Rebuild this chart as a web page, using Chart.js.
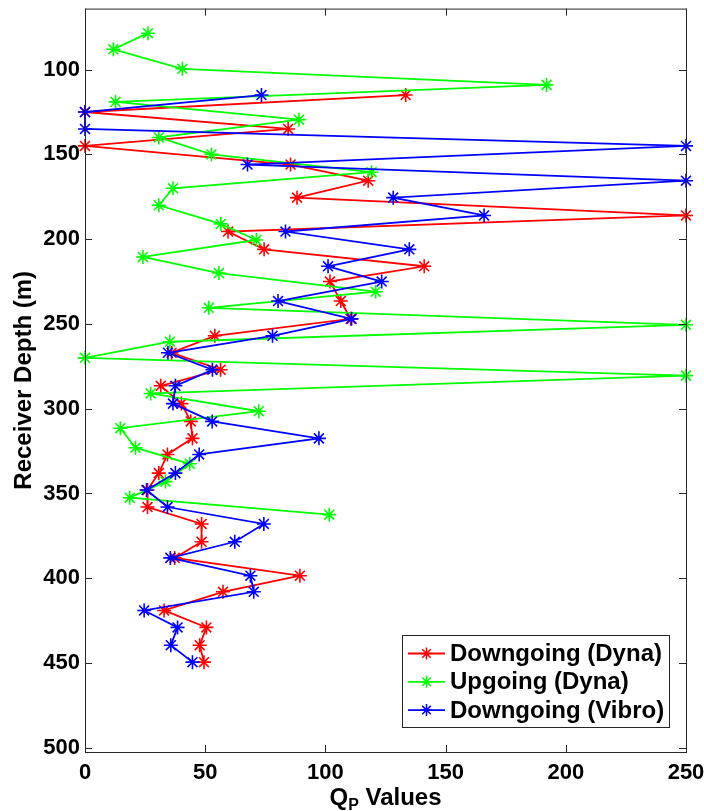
<!DOCTYPE html>
<html>
<head>
<meta charset="utf-8">
<script src="https://cdn.jsdelivr.net/npm/chart.js@4/dist/chart.umd.min.js"></script>
<style>
  html, body { margin: 0; padding: 0; background: #fff; }
  #plot { display: block; }
</style>
</head>
<body>
<canvas id="plot" width="704" height="811"></canvas>
<script>
// depths (m)
const downDepth = [115, 125, 135, 145, 156, 165.5, 175.5, 186, 195.5, 206, 216, 225, 236.5, 247, 257, 267, 277,
  286.5, 297, 307.5, 317.5, 327, 338, 348, 358, 368, 378.5, 388, 398.5, 408, 419, 429, 439.5, 449.5];
const upDepth = [78.5, 88, 99.5, 109, 119, 129.5, 140, 150, 160.5, 170, 180, 191, 200.5, 210.5, 220, 231, 240.5,
  250.5, 260.5, 270, 280.5, 291, 301.5, 311.5, 323, 332.5, 343, 352.5, 362.5];

// Qp values
const qpDownDyna = [133.4, 0, 84.5, 0, 85.5, 117.8, 88.2, 250, 59.5, 74.5, 141.1, 101.9, 106.4, 110.5, 54, 36, 56.4,
  31.5, 40.1, 44, 44.7, 34.3, 30.7, 26, 26, 48.5, 48.5, 37.3, 89.4, 57.4, 32.9, 50.5, 47.7, 49.5];
const qpUpDyna = [26.2, 11.8, 40.5, 192, 12.7, 89, 30.7, 52.6, 119.2, 36.6, 30.7, 56.5, 71.3, 24.1, 55.7, 120.9, 51.5,
  250, 35.3, 0, 250, 27.3, 72.3, 14.7, 21, 43.6, 33.5, 18.6, 101.6];
const qpDownVibro = [73.4, 0, 0, 250, 67.6, 250, 128.2, 166, 83.4, 134.9, 101.1, 123.4, 80.3, 110.9, 78, 34.5, 53,
  37.6, 36.6, 52.9, 97.3, 47.5, 37.6, 25.6, 34.3, 74.4, 62.3, 35.5, 68.8, 70.2, 24.6, 38.5, 35.7, 44.7];

const seriesNames = ['Downgoing (Dyna)', 'Upgoing (Dyna)', 'Downgoing (Vibro)'];
const seriesColors = ['#ff0000', '#00ff00', '#0000ff'];

const xTicks = [0, 50, 100, 150, 200, 250];
const yTicks = [100, 150, 200, 250, 300, 350, 400, 450, 500];

const FONT = '"Liberation Sans", Arial, sans-serif';

function toPoints(xs, ys) {
  return xs.map((v, i) => ({ x: v, y: ys[i] }));
}

function makeSet(idx, xs, ys, order) {
  return {
    label: seriesNames[idx],
    data: toPoints(xs, ys),
    showLine: true,
    borderColor: seriesColors[idx],
    backgroundColor: seriesColors[idx],
    borderWidth: 1.8,
    pointStyle: 'star',
    pointRadius: 7,
    pointBorderWidth: 1.6,
    pointBorderColor: seriesColors[idx],
    pointHoverRadius: 7,
    clip: false,
    order: order
  };
}

// frame, inward ticks, axis titles and legend, drawn like the MATLAB figure
const decorations = {
  id: 'decorations',
  afterDraw(chart) {
    const { ctx, chartArea: a, scales } = chart;
    const tick = 7;
    ctx.save();
    ctx.strokeStyle = '#262626';
    ctx.lineWidth = 1;
    ctx.strokeRect(a.left + 0.5, a.top + 0.5, a.right - a.left, a.bottom - a.top);

    ctx.beginPath();
    xTicks.forEach(v => {
      const px = Math.round(scales.x.getPixelForValue(v)) + 0.5;
      ctx.moveTo(px, a.bottom); ctx.lineTo(px, a.bottom - tick);
      ctx.moveTo(px, a.top); ctx.lineTo(px, a.top + tick);
    });
    yTicks.forEach(v => {
      const py = Math.round(scales.y.getPixelForValue(v)) + 0.5;
      ctx.moveTo(a.left, py); ctx.lineTo(a.left + tick, py);
      ctx.moveTo(a.right, py); ctx.lineTo(a.right - tick, py);
    });
    ctx.stroke();

    // x title with subscript
    ctx.fillStyle = '#000';
    ctx.textBaseline = 'alphabetic';
    const cx = (a.left + a.right) / 2;
    const base = 805;
    ctx.font = 'bold 24px ' + FONT;
    const wQ = ctx.measureText('Q').width;
    const wRest = ctx.measureText(' Values').width;
    ctx.font = 'bold 16px ' + FONT;
    const wP = ctx.measureText('P').width;
    const x0 = cx - (wQ + wP + wRest) / 2;
    ctx.textAlign = 'left';
    ctx.font = 'bold 24px ' + FONT;
    ctx.fillText('Q', x0, base);
    ctx.font = 'bold 16px ' + FONT;
    ctx.fillText('P', x0 + wQ, base + 5);
    ctx.font = 'bold 24px ' + FONT;
    ctx.fillText(' Values', x0 + wQ + wP, base);

    // y title
    ctx.save();
    ctx.translate(24, (a.top + a.bottom) / 2);
    ctx.rotate(-Math.PI / 2);
    ctx.textAlign = 'center';
    ctx.textBaseline = 'middle';
    ctx.font = 'bold 24px ' + FONT;
    ctx.fillText('Receiver Depth (m)', 0, 0);
    ctx.restore();

    // legend
    const lx = 402, ly = 635, lw = 267, lh = 92;
    ctx.fillStyle = '#fff';
    ctx.fillRect(lx, ly, lw, lh);
    ctx.strokeStyle = '#262626';
    ctx.lineWidth = 1;
    ctx.strokeRect(lx + 0.5, ly + 0.5, lw, lh);
    seriesNames.forEach((name, i) => {
      const yy = ly + 18.5 + i * 28.3;
      ctx.strokeStyle = seriesColors[i];
      ctx.lineWidth = 1.8;
      ctx.beginPath();
      ctx.moveTo(408, yy); ctx.lineTo(445, yy);
      ctx.stroke();
      // star marker
      const r = 6;
      ctx.lineWidth = 1.5;
      ctx.beginPath();
      for (let k = 0; k < 4; k++) {
        const ang = k * Math.PI / 4;
        ctx.moveTo(426.5 - r * Math.cos(ang), yy - r * Math.sin(ang));
        ctx.lineTo(426.5 + r * Math.cos(ang), yy + r * Math.sin(ang));
      }
      ctx.stroke();
      ctx.fillStyle = '#000';
      ctx.font = 'bold 24px ' + FONT;
      ctx.textAlign = 'left';
      ctx.textBaseline = 'middle';
      ctx.fillText(name, 450, yy + 1);
    });
    ctx.restore();
  }
};

const ctx = document.getElementById('plot').getContext('2d');
new Chart(ctx, {
  type: 'scatter',
  data: {
    datasets: [
      makeSet(0, qpDownDyna, downDepth, 3),
      makeSet(1, qpUpDyna, upDepth, 2),
      makeSet(2, qpDownVibro, downDepth, 1)
    ]
  },
  options: {
    responsive: false,
    animation: false,
    devicePixelRatio: 1,
    layout: { padding: { left: 0, top: 6, right: 18, bottom: 0 } },
    plugins: {
      legend: { display: false },
      tooltip: { enabled: false }
    },
    scales: {
      x: {
        type: 'linear',
        min: 0,
        max: 250,
        afterBuildTicks: axis => { axis.ticks = xTicks.map(v => ({ value: v })); },
        afterFit: scale => {
          scale.height = 59;
          scale.paddingLeft = 0;
          scale.paddingRight = 0;
        },
        grid: { display: false, drawTicks: false },
        border: { display: false },
        ticks: {
          padding: 8,
          color: '#000',
          font: { family: FONT, size: 22, weight: 'bold' }
        }
      },
      y: {
        type: 'linear',
        reverse: true,
        min: 64,
        max: 502.5,
        afterBuildTicks: axis => { axis.ticks = yTicks.map(v => ({ value: v })); },
        afterFit: scale => {
          scale.width = 85;
          scale.paddingTop = 0;
          scale.paddingBottom = 0;
        },
        grid: { display: false, drawTicks: false },
        border: { display: false },
        ticks: {
          padding: 5,
          color: '#000',
          font: { family: FONT, size: 22, weight: 'bold' }
        }
      }
    }
  },
  plugins: [decorations]
});
</script>
</body>
</html>
